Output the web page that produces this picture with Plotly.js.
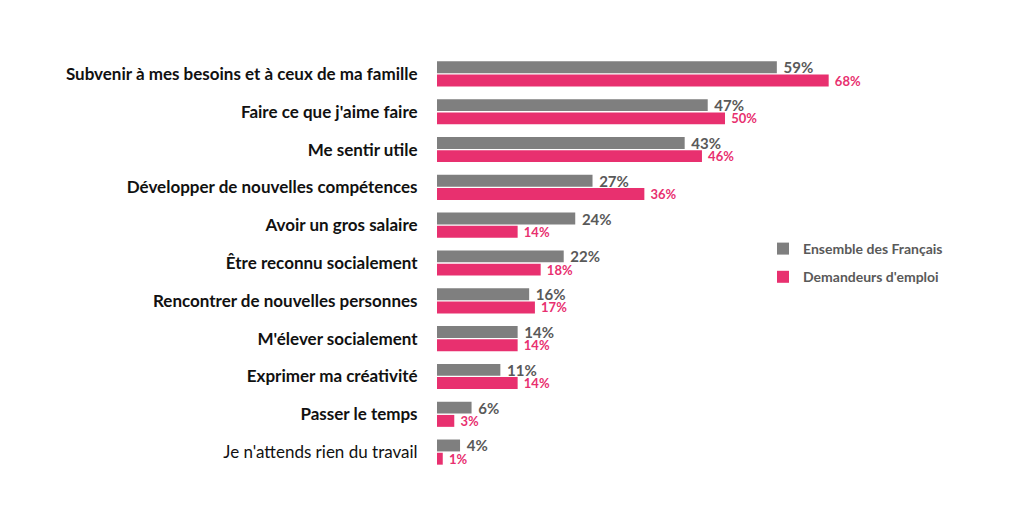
<!DOCTYPE html>
<html>
<head>
<meta charset="utf-8">
<script src="https://cdn.plot.ly/plotly-3.0.1.min.js"></script>
<style>html,body{margin:0;padding:0;background:#fff}#chart{width:1024px;height:512px}</style>
</head>
<body>
<div id="chart"></div>
<script>
const categories = [
  "Subvenir à mes besoins et à ceux de ma famille",
  "Faire ce que j'aime faire",
  "Me sentir utile",
  "Développer de nouvelles compétences",
  "Avoir un gros salaire",
  "Être reconnu socialement",
  "Rencontrer de nouvelles personnes",
  "M'élever socialement",
  "Exprimer ma créativité",
  "Passer le temps",
  "Je n'attends rien du travail"
];
const boldLabel = [true, true, true, true, true, true, true, true, true, true, false];
const ensembleFrancais = [59, 47, 43, 27, 24, 22, 16, 14, 11, 6, 4];
const demandeursEmploi = [68, 50, 46, 36, 14, 18, 17, 14, 14, 3, 1];
const seriesNames = ["Ensemble des Français", "Demandeurs d'emploi"];

const grey = '#7f7f7f';
const pink = '#e8306f';

const traces = [
  {
    type: 'bar', orientation: 'h',
    name: seriesNames[0], legendgroup: 'a',
    x: ensembleFrancais, y: categories,
    marker: { color: grey },
    texttemplate: '\u00a0%{x}%', textposition: 'outside', cliponaxis: false, constraintext: 'none',
    textfont: { family: 'Lato, sans-serif', size: 15, color: '#595959', weight: 'bold' }
  },
  {
    type: 'bar', orientation: 'h',
    name: seriesNames[1], legendgroup: 'b',
    x: demandeursEmploi, y: categories,
    marker: { color: pink },
    texttemplate: '\u00a0%{x}%', textposition: 'outside', cliponaxis: false, constraintext: 'none',
    textfont: { family: 'Lato, sans-serif', size: 13, color: pink, weight: 'bold' }
  }
];

const layout = {
  width: 1024, height: 512,
  margin: { l: 437, r: 11, t: 55, b: 41 },
  paper_bgcolor: '#fff', plot_bgcolor: '#fff',
  barmode: 'group', bargap: 0.3, bargroupgap: 0.1,
  font: { family: 'Lato, sans-serif', color: '#000' },
  xaxis: { range: [0, 100], showticklabels: false, showgrid: false, zeroline: false, showline: false },
  yaxis: {
    autorange: 'reversed', showgrid: false, zeroline: false, showline: false,
    tickmode: 'array', tickvals: categories,
    ticktext: categories.map((c, i) => boldLabel[i] ? '<b>' + c + '</b>' : c),
    ticks: 'outside', ticklen: 15, tickcolor: 'rgba(0,0,0,0)',
    tickfont: { family: 'Lato, sans-serif', size: 17, color: '#111' }
  },
  showlegend: true,
  legend: {
    x: 0.566, y: 0.5, xanchor: 'left', yanchor: 'middle',
    traceorder: 'grouped', tracegroupgap: 7,
    font: { family: 'Lato, sans-serif', size: 14, color: '#595959', weight: 'bold' },
    itemwidth: 30, bgcolor: 'rgba(0,0,0,0)'
  }
};

Plotly.newPlot('chart', traces, layout, { displayModeBar: false, staticPlot: true });
</script>
</body>
</html>
